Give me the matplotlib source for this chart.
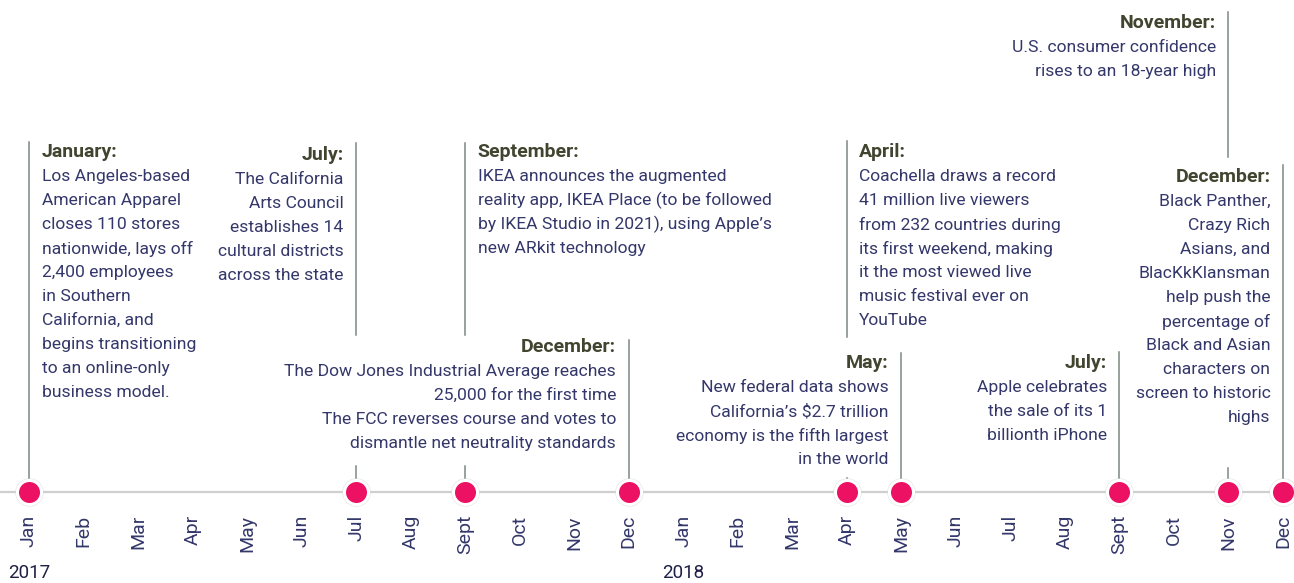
import matplotlib
matplotlib.use("Agg")
import matplotlib.pyplot as plt

# ---------------- data ----------------
months = ['Jan', 'Feb', 'Mar', 'Apr', 'May', 'Jun', 'Jul', 'Aug', 'Sept', 'Oct', 'Nov', 'Dec']
years = ['2017', '2018']

event_month_index = [0, 6, 8, 11, 15, 16, 20, 22, 23]
event_titles = ['January:', 'July:', 'September:', 'December:', 'April:',
                'May:', 'July:', 'November:', 'December:']
event_bodies = [
    ['Los Angeles-based', 'American Apparel', 'closes 110 stores', 'nationwide, lays off',
     '2,400 employees', 'in Southern', 'California, and', 'begins transitioning',
     'to an online-only', 'business model.'],
    ['The California', 'Arts Council', 'establishes 14', 'cultural districts', 'across the state'],
    ['IKEA announces the augmented', 'reality app, IKEA Place (to be followed',
     'by IKEA Studio in 2021), using Apple\u2019s', 'new ARkit technology'],
    ['The Dow Jones Industrial Average reaches', '25,000 for the first time',
     'The FCC reverses course and votes to', 'dismantle net neutrality standards'],
    ['Coachella draws a record', '41 million live viewers', 'from 232 countries during',
     'its first weekend, making', 'it the most viewed live', 'music festival ever on', 'YouTube'],
    ['New federal data shows', 'California\u2019s $2.7 trillion', 'economy is the fifth largest',
     'in the world'],
    ['Apple celebrates', 'the sale of its 1', 'billionth iPhone'],
    ['U.S. consumer confidence', 'rises to an 18-year high'],
    ['Black Panther,', 'Crazy Rich', 'Asians, and', 'BlacKkKlansman', 'help push the',
     'percentage of', 'Black and Asian', 'characters on', 'screen to historic', 'highs'],
]

# ---------------- layout (pixels, y measured from top) ----------------
W, H = 1294, 583
PX_PER_MONTH = 54.52
X0_PX = 29
LINE_Y = 492
text_side = ['left', 'right', 'left', 'right', 'left', 'right', 'right', 'right', 'right']
title_y = [152, 155, 152, 347, 152, 363, 363, 23, 177]
stem_top = [142, 143, 143, 340, 141, 353, 352, 12, 165]
stem_gap = [None, (335, 466), (335, 466), None, (337, 478), None, None, (157, 468), None]

BODY_COLOR = '#34376a'
TITLE_COLOR = '#41452f'
STEM_COLOR = '#7d8781'
DOT_COLOR = '#ec1163'
FONT = ['Roboto', 'DejaVu Sans']

fig = plt.figure(figsize=(W / 100, H / 100), dpi=100)
ax = fig.add_axes([0, 0, 1, 1])
ax.set_xlim(-X0_PX / PX_PER_MONTH, (W - X0_PX) / PX_PER_MONTH)
ax.set_ylim(H, 0)
ax.axis('off')

dx = 12.5 / PX_PER_MONTH

# baseline
ax.axhline(LINE_Y, color='#cfcfcf', lw=1.6, zorder=1)

# stems
for i, m in enumerate(event_month_index):
    gap = stem_gap[i]
    if gap is None:
        ax.plot([m, m], [stem_top[i], LINE_Y], color=STEM_COLOR, lw=1.1, zorder=2)
    else:
        ax.plot([m, m], [stem_top[i], gap[0]], color=STEM_COLOR, lw=1.1, zorder=2)
        ax.plot([m, m], [gap[1], LINE_Y], color=STEM_COLOR, lw=1.1, zorder=2)

# dots
ax.scatter(event_month_index, [LINE_Y] * len(event_month_index), s=420,
           color='#d8d8d8', alpha=0.6, linewidths=0, zorder=3)
ax.scatter(event_month_index, [LINE_Y] * len(event_month_index), s=300,
           color=DOT_COLOR, edgecolors='white', linewidths=2.2, zorder=4)

# event texts
for i, m in enumerate(event_month_index):
    if text_side[i] == 'left':
        tx, ha = m + dx, 'left'
    else:
        tx, ha = m - dx, 'right'
    ax.text(tx, title_y[i], event_titles[i], ha=ha, va='center', fontsize=14,
            fontweight='bold', color=TITLE_COLOR, family=FONT, zorder=5)
    for k, line in enumerate(event_bodies[i]):
        ax.text(tx, title_y[i] + 24.5 + 24 * k, line, ha=ha, va='center', fontsize=12.6,
                fontweight='normal', color=BODY_COLOR, family=FONT, zorder=5)

# month labels
for y_i in range(len(years)):
    for j, mo in enumerate(months):
        idx = y_i * 12 + j
        ax.text(idx, 515, mo, rotation=90, ha='center', va='top', fontsize=14,
                fontweight='normal', color=BODY_COLOR, family=FONT)
    ax.text(y_i * 12 - 21 / PX_PER_MONTH, 573, years[y_i], ha='left', va='center',
            fontsize=13.5, color='#1e2046', family=FONT)

fig.savefig('out.png', dpi=100)
